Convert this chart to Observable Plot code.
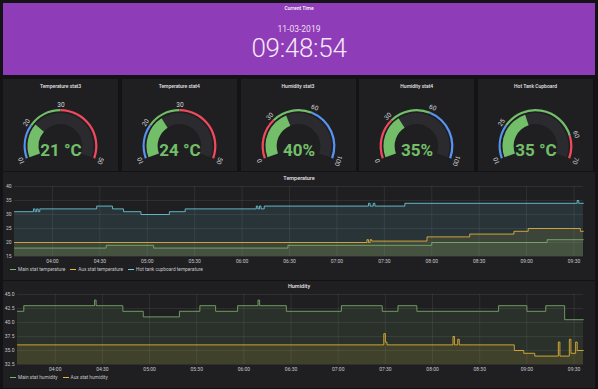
<!DOCTYPE html>
<html><head><meta charset="utf-8">
<script src="https://cdn.jsdelivr.net/npm/d3@7"></script>
<script src="https://cdn.jsdelivr.net/npm/@observablehq/plot@0.6"></script>
<style>
html,body{margin:0;padding:0;background:#131315;width:598px;height:389px;overflow:hidden;font-family:Roboto,"Noto Sans",sans-serif;}
.panel{position:absolute;background:#1f1f22;}
.abs{position:absolute;}
.ptitle{position:absolute;left:0;right:0;text-align:center;color:#e4e4e4;font-size:5px;font-weight:500;white-space:nowrap;line-height:6px;}
.legend{position:absolute;display:flex;gap:5px;font-size:4.8px;color:#c4c5c7;white-space:nowrap;align-items:center;line-height:6px;}
.legend span.sw{display:inline-block;width:6px;height:1.2px;margin-right:2px;vertical-align:middle;}
svg.plot{overflow:visible;}
</style></head><body>
<div id="root"></div>
<script>
// ---------- data ----------
const clockTitle = "Current Time";
const clockDate = "11-03-2019";
const clockTime = "09:48:54";
const day = "2019-03-11";
const domainStart = "03:36", domainEnd = "09:36";

const gaugeTitles = ["Temperature stat3", "Temperature stat4", "Humidity stat3", "Humidity stat4", "Hot Tank Cupboard"];
const gaugeValues = [21, 24, 40, 35, 35];
const gaugeUnits = [" °C", " °C", "%", "%", " °C"];
const gaugeMin = [10, 10, 0, 0, 10];
const gaugeMax = [50, 50, 100, 100, 70];
const gaugeThresholds = [[20, 30], [20, 30], [30, 60], [30, 60], [25, 60]];
const gaugeBandColors = [
  ["blue", "green", "red"], ["blue", "green", "red"],
  ["red", "green", "blue"], ["red", "green", "blue"],
  ["blue", "green", "red"]];

const tempTitle = "Temperature";
const tempTicks = [15, 20, 25, 30, 35, 40];
const tempSeries = ["Main stat temperature", "Aux stat temperature", "Hot tank cupboard temperature"];
const tempMainTimes = ["03:36", "04:34", "05:04", "06:29", "08:00", "09:13", "09:36"];
const tempMainValues = [18, 19, 18, 19, 20, 21, 21];
const tempAuxTimes = ["03:36", "07:19", "07:20", "07:21", "07:22", "07:57", "08:24", "08:52", "09:01", "09:34", "09:36"];
const tempAuxValues = [20, 21, 20, 21, 20.5, 22, 23, 24, 25, 24, 24];
const tempHotTimes = ["03:36", "03:48", "03:49", "03:50", "03:51", "03:52", "04:28", "04:38", "04:45", "04:56", "05:14", "05:24", "06:09", "06:10", "06:11", "06:12", "06:14", "07:20", "07:21", "07:23", "07:24", "07:43", "09:32", "09:33", "09:36"];
const tempHotValues = [31, 32, 31, 32, 31, 32, 33, 32, 31, 30, 31, 32, 33, 32, 33, 32, 33, 34, 33, 34, 33, 34, 35, 34, 34];

const humTitle = "Humidity";
const humTicks = [32.5, 35, 37.5, 40, 42.5, 45];
const humSeries = ["Main stat humidity", "Aux stat humidity"];
const humMainTimes = ["03:36", "03:40", "04:25", "04:26", "04:43", "04:56", "05:19", "05:32", "05:42", "05:56", "06:09", "06:10", "06:27", "07:02", "07:28", "07:38", "07:50", "08:30", "08:42", "09:00", "09:12", "09:24", "09:36"];
const humMainValues = [42, 43, 44, 43, 42, 41, 42, 43, 42, 43, 44, 43, 42, 43, 42, 43, 42, 42, 43, 42, 43, 40.5, 40.5];
const humAuxTimes = ["03:36", "07:29", "07:30", "07:31", "08:13", "08:14", "08:16", "08:17", "08:52", "08:58", "09:05", "09:20", "09:21", "09:27", "09:28", "09:31", "09:32", "09:36"];
const humAuxValues = [36, 38, 36.5, 36, 37.5, 36, 37, 36, 35, 34.5, 34, 36.5, 34, 37, 34.5, 36.5, 35, 35];

// ---------- styles ----------
const palette = {green: "#73bf69", blue: "#5794f2", red: "#f2495c"};
const seriesColors = {main: "#7eb26d", aux: "#eab839", hot: "#6ed0e0"};

const root = document.getElementById("root");
function el(tag, cls, style, text) {
  const e = document.createElement(tag);
  if (cls) e.className = cls;
  if (style) e.setAttribute("style", style);
  if (text != null) e.textContent = text;
  root.appendChild(e);
  return e;
}

// ---------- clock panel ----------
el("div", "panel", "left:3px;top:3px;width:592px;height:72px;background:#8e3cb7;");
el("div", "ptitle", "top:5px;color:#fff;", clockTitle);
el("div", "abs", "left:0;width:598px;top:24px;text-align:center;font-size:8.5px;color:#f1dff3;", clockDate);
el("div", "abs", "left:0;width:598px;top:33px;text-align:center;font-size:26px;font-weight:300;color:#f6e8f7;letter-spacing:-0.3px;", clockTime);

// ---------- gauges ----------
const deg = Math.PI / 180;
gaugeTitles.forEach((title, i) => {
  const left = 3 + i * 118.75, top = 79, w = 115, h = 92;
  el("div", "panel", `left:${left}px;top:${top}px;width:${w}px;height:${h}px;`);
  el("div", "ptitle", `left:${left}px;width:${w}px;right:auto;top:${top + 4}px;`, title);
  const mn = gaugeMin[i], mx = gaugeMax[i], val = gaugeValues[i];
  const th = gaugeThresholds[i];
  const bounds = [mn, ...th, mx];
  const colors = gaugeBandColors[i].map(c => palette[c]);
  const angle = d3.scaleLinear([mn, mx], [-110 * deg, 110 * deg]);
  const colorOf = v => colors[d3.bisectRight(th, v)];
  const k = 37.1;             // px per unit radius
  const cy = 67;              // center from panel top
  const labels = bounds.map(v => ({v}));
  const bands = th.length + 1;
  const arcsMark = (index, scales) => {
    const X = scales.x, Y = scales.y;
    const cx0 = X(0), cy0 = Y(0), r = X(1) - X(0);
    const g = d3.create("svg:g").attr("transform", `translate(${cx0},${cy0})`);
    const arc = d3.arc();
    g.append("path").attr("fill", "#2b2b2f")
      .attr("d", arc({innerRadius: 0.59 * r, outerRadius: 0.89 * r, startAngle: angle(mn), endAngle: angle(mx)}));
    g.append("path").attr("fill", colorOf(val))
      .attr("d", arc({innerRadius: 0.59 * r, outerRadius: 0.89 * r, startAngle: angle(mn), endAngle: angle(val)}));
    for (let b = 0; b < bands; b++) {
      g.append("path").attr("fill", colors[b])
        .attr("d", arc({innerRadius: 0.935 * r, outerRadius: 0.995 * r, startAngle: angle(bounds[b]), endAngle: angle(bounds[b + 1])}));
    }
    return g.node();
  };
  const plot = Plot.plot({
    width: w, height: h, margin: 0,
    x: {domain: [-w / 2 / k, w / 2 / k], axis: null},
    y: {domain: [-(h - cy) / k, cy / k], axis: null},
    style: {background: "transparent", fontFamily: "Roboto, sans-serif", overflow: "visible"},
    marks: [
      arcsMark,
      Plot.text(labels, {
        x: d => 1.13 * Math.sin(angle(d.v)), y: d => 1.13 * Math.cos(angle(d.v)),
        text: d => String(d.v), rotate: d => angle(d.v) / deg,
        fill: "#d6d6d6", fontSize: 6.5, textAnchor: "middle", lineAnchor: "middle"
      }),
      Plot.text([val], {
        x: 0, y: -0.1, text: d => d + gaugeUnits[i], fill: colorOf(val),
        fontSize: 17, fontWeight: "bold", textAnchor: "middle", lineAnchor: "middle"
      })
    ]
  });
  plot.style.position = "absolute";
  plot.style.left = left + "px";
  plot.style.top = top + "px";
  root.appendChild(plot);
});

// ---------- time series helpers ----------
const parseT = d3.timeParse("%Y-%m-%d %H:%M");
const T = s => parseT(day + " " + s);
const rows = (times, values) => times.map((t, i) => ({t: T(t), v: values[i]}));

function timePanel({top, height, title, ticks, yFmt, marginLeft, marginTop, series, legendTop, titleTop}) {
  el("div", "panel", `left:3px;top:${top}px;width:592px;height:${height}px;`);
  el("div", "ptitle", `top:${top + titleTop}px;font-size:5.5px;`, title);
  const lo = ticks[0], hi = ticks[ticks.length - 1];
  const marks = [];
  for (const s of series) {
    marks.push(Plot.areaY(s.data, {x: "t", y1: lo, y2: "v", curve: "step-after", fill: s.color, fillOpacity: 0.12}));
  }
  for (const s of series) {
    marks.push(Plot.lineY(s.data, {x: "t", y: "v", curve: "step-after", stroke: s.color, strokeWidth: 0.9, strokeOpacity: 0.9}));
  }
  const plot = Plot.plot({
    width: 592, height: marginTop + 70 + 10,
    marginLeft, marginRight: 12, marginTop, marginBottom: 10,
    style: {background: "transparent", color: "#c6c7c9", fontSize: "5px", fontFamily: "Roboto, sans-serif", overflow: "visible"},
    x: {type: "time", domain: [T(domainStart), T(domainEnd)], ticks: d3.timeMinute.every(30),
        tickFormat: d3.timeFormat("%H:%M"), tickSize: 0, tickPadding: 3, label: null, grid: true},
    y: {domain: [lo, hi], ticks, tickFormat: yFmt, tickSize: 0, tickPadding: 3, label: null, grid: true},
    marks
  });
  plot.style.position = "absolute";
  plot.style.left = "3px";
  plot.style.top = top + "px";
  root.appendChild(plot);
  const lg = el("div", "legend", `left:10px;top:${legendTop}px;`);
  for (const s of series) {
    const item = document.createElement("span");
    item.innerHTML = `<span class="sw" style="background:${s.color}"></span>`;
    item.appendChild(document.createTextNode(s.name));
    lg.appendChild(item);
  }
}

timePanel({
  top: 172, height: 108, title: tempTitle, titleTop: 3, ticks: tempTicks, yFmt: d => String(d),
  marginLeft: 11, marginTop: 14, legendTop: 267,
  series: [
    {name: tempSeries[0], color: seriesColors.main, data: rows(tempMainTimes, tempMainValues)},
    {name: tempSeries[1], color: seriesColors.aux, data: rows(tempAuxTimes, tempAuxValues)},
    {name: tempSeries[2], color: seriesColors.hot, data: rows(tempHotTimes, tempHotValues)}
  ]
});

timePanel({
  top: 281, height: 107, title: humTitle, titleTop: 2, ticks: humTicks, yFmt: d3.format(".1f"),
  marginLeft: 14, marginTop: 13, legendTop: 375,
  series: [
    {name: humSeries[0], color: seriesColors.main, data: rows(humMainTimes, humMainValues)},
    {name: humSeries[1], color: seriesColors.aux, data: rows(humAuxTimes, humAuxValues)}
  ]
});
</script></body></html>
